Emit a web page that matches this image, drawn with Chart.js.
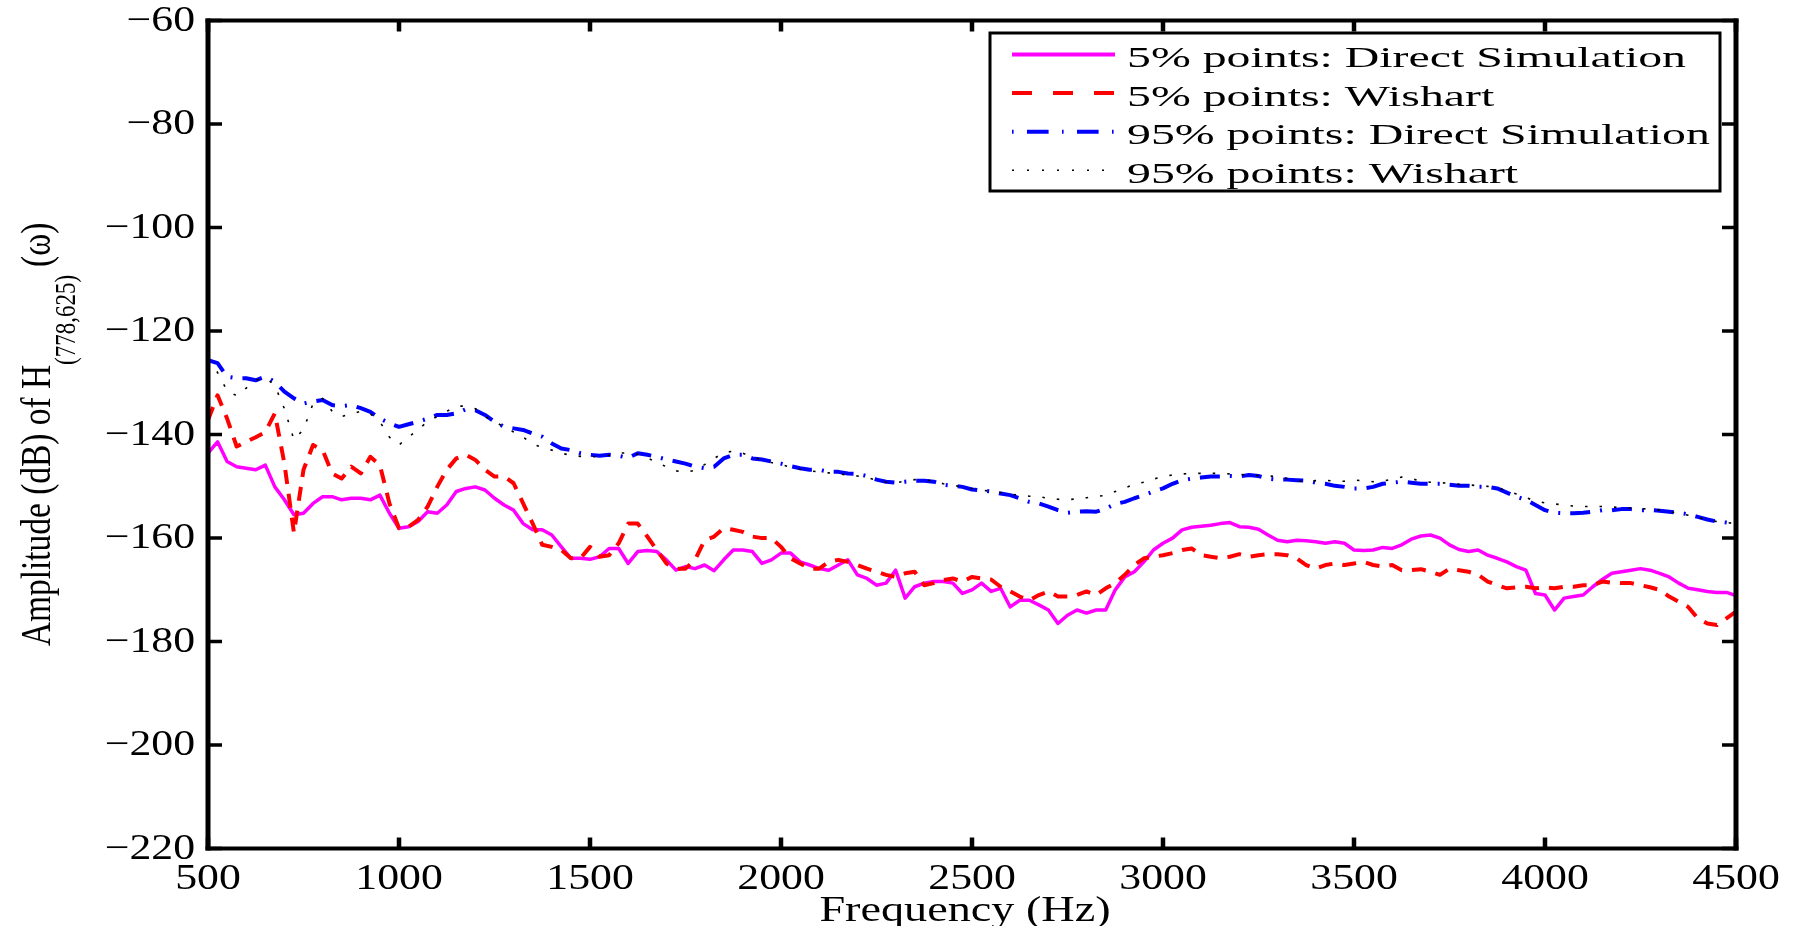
<!DOCTYPE html>
<html>
<head>
<meta charset="utf-8">
<script src="https://cdn.jsdelivr.net/npm/chart.js@4"></script>
<style>
  html, body { margin: 0; padding: 0; background: #fff; overflow: hidden; }
  canvas { display: block; }
</style>
</head>
<body>
<canvas id="chart" width="1798" height="926"></canvas>
<script>
// frequency grid (Hz), one row = 250 Hz
const freq = [
  500, 525, 550, 575, 600, 625, 650, 675, 700, 725,
  750, 775, 800, 825, 850, 875, 900, 925, 950, 975,
  1000, 1025, 1050, 1075, 1100, 1125, 1150, 1175, 1200, 1225,
  1250, 1275, 1300, 1325, 1350, 1375, 1400, 1425, 1450, 1475,
  1500, 1525, 1550, 1575, 1600, 1625, 1650, 1675, 1700, 1725,
  1750, 1775, 1800, 1825, 1850, 1875, 1900, 1925, 1950, 1975,
  2000, 2025, 2050, 2075, 2100, 2125, 2150, 2175, 2200, 2225,
  2250, 2275, 2300, 2325, 2350, 2375, 2400, 2425, 2450, 2475,
  2500, 2525, 2550, 2575, 2600, 2625, 2650, 2675, 2700, 2725,
  2750, 2775, 2800, 2825, 2850, 2875, 2900, 2925, 2950, 2975,
  3000, 3025, 3050, 3075, 3100, 3125, 3150, 3175, 3200, 3225,
  3250, 3275, 3300, 3325, 3350, 3375, 3400, 3425, 3450, 3475,
  3500, 3525, 3550, 3575, 3600, 3625, 3650, 3675, 3700, 3725,
  3750, 3775, 3800, 3825, 3850, 3875, 3900, 3925, 3950, 3975,
  4000, 4025, 4050, 4075, 4100, 4125, 4150, 4175, 4200, 4225,
  4250, 4275, 4300, 4325, 4350, 4375, 4400, 4425, 4450, 4475,
  4500
];

// 5% points: Direct Simulation (dB)
const direct5 = [
  -143.6, -141.4, -145.2, -146.2, -146.5, -146.8, -145.9, -150.1, -152.6, -155.5,
  -155.2, -153.3, -152.0, -152.0, -152.6, -152.3, -152.3, -152.6, -151.7, -155.2,
  -158.1, -157.8, -156.8, -154.9, -155.2, -153.6, -151.0, -150.4, -150.1, -150.7,
  -152.3, -153.6, -154.6, -157.2, -158.4, -158.4, -159.4, -161.7, -163.9, -163.9,
  -164.1, -163.6, -162.0, -162.0, -164.9, -162.6, -162.4, -162.6, -164.2, -166.2,
  -165.5, -165.9, -165.2, -166.3, -164.2, -162.3, -162.3, -162.6, -164.9, -164.2,
  -162.9, -162.9, -164.6, -165.2, -165.9, -166.2, -165.2, -164.2, -167.1, -167.8,
  -169.1, -168.7, -166.2, -171.6, -169.4, -168.7, -168.4, -168.4, -168.7, -170.7,
  -170.0, -168.7, -170.3, -169.7, -173.3, -172.0, -172.0, -172.9, -173.9, -176.5,
  -174.9, -173.9, -174.5, -173.9, -173.9, -170.0, -167.5, -166.5, -164.6, -162.3,
  -161.0, -160.0, -158.4, -157.9, -157.7, -157.5, -157.2, -157.0, -157.8, -157.9,
  -158.3, -159.4, -160.4, -160.7, -160.4, -160.5, -160.7, -161.0, -160.7, -161.0,
  -162.3, -162.4, -162.3, -161.8, -162.0, -161.3, -160.2, -159.6, -159.4, -160.0,
  -161.3, -162.2, -162.6, -162.3, -163.3, -163.9, -164.6, -165.5, -166.2, -170.7,
  -171.0, -173.9, -171.6, -171.3, -171.0, -169.4, -168.0, -166.8, -166.5, -166.2,
  -165.9, -166.2, -166.8, -167.5, -168.7, -169.7, -170.0, -170.3, -170.5, -170.5,
  -171.1
];

// 5% points: Wishart (dB)
const wishart5 = [
  -137.2, -132.4, -136.9, -142.3, -141.4, -140.5, -139.5, -135.9, -145.6, -159.0,
  -146.8, -142.0, -143.0, -147.5, -148.5, -146.2, -147.5, -144.3, -145.9, -153.3,
  -158.1, -157.8, -156.5, -153.9, -150.1, -146.8, -144.6, -143.9, -144.9, -146.8,
  -148.1, -148.1, -149.4, -153.3, -157.2, -161.3, -161.7, -162.3, -163.9, -163.9,
  -161.7, -163.6, -163.3, -161.0, -157.2, -157.2, -159.7, -162.3, -164.9, -165.9,
  -165.9, -164.2, -160.4, -159.7, -158.1, -158.4, -158.8, -159.7, -160.0, -160.0,
  -161.7, -163.9, -164.9, -165.9, -165.9, -164.6, -164.2, -164.6, -165.2, -165.9,
  -166.5, -167.1, -167.5, -166.8, -166.5, -169.1, -168.7, -168.1, -167.8, -168.4,
  -167.5, -167.8, -168.0, -169.4, -170.3, -171.3, -172.0, -171.0, -170.3, -171.3,
  -171.3, -171.0, -170.3, -171.0, -169.7, -168.7, -167.1, -165.2, -163.9, -163.6,
  -163.3, -162.9, -162.3, -162.0, -163.3, -163.6, -163.9, -163.6, -163.1, -163.6,
  -163.3, -163.1, -163.1, -163.3, -163.9, -165.2, -165.9, -165.2, -164.9, -165.2,
  -164.9, -164.6, -165.2, -165.5, -165.2, -166.2, -166.2, -166.0, -166.5, -167.1,
  -165.9, -166.2, -166.5, -167.1, -168.4, -169.1, -169.7, -169.5, -169.4, -169.7,
  -169.5, -169.7, -169.4, -169.4, -169.1, -169.1, -168.4, -168.6, -168.7, -168.7,
  -169.1, -169.5, -170.0, -171.3, -172.3, -173.3, -175.5, -176.5, -176.8, -175.5,
  -174.2
];

// 95% points: Direct Simulation (dB)
const direct95 = [
  -125.6, -126.2, -128.8, -129.1, -129.1, -129.5, -128.8, -129.8, -131.7, -133.0,
  -134.0, -133.6, -133.3, -134.3, -134.5, -134.3, -134.9, -135.6, -136.9, -137.8,
  -138.5, -138.0, -137.5, -136.9, -136.2, -136.2, -135.9, -135.1, -135.3, -136.2,
  -137.5, -138.5, -138.8, -139.1, -139.8, -140.4, -141.7, -142.7, -143.0, -143.6,
  -143.9, -144.1, -143.9, -144.1, -144.5, -143.6, -143.9, -144.3, -144.8, -145.2,
  -145.6, -146.2, -146.5, -146.2, -144.6, -143.9, -143.9, -144.6, -144.8, -145.2,
  -145.6, -146.1, -146.5, -146.8, -146.8, -147.2, -147.2, -147.5, -147.6, -148.0,
  -148.7, -149.1, -149.3, -149.1, -148.9, -148.9, -149.1, -149.7, -149.9, -150.1,
  -150.6, -150.8, -151.0, -151.4, -151.7, -152.3, -153.0, -153.3, -153.9, -154.6,
  -155.1, -154.9, -154.8, -154.9, -154.3, -153.4, -153.0, -152.3, -151.7, -151.0,
  -150.4, -149.5, -148.8, -148.5, -148.3, -148.1, -148.1, -148.0, -148.1, -147.8,
  -148.0, -148.5, -148.7, -148.7, -148.8, -148.9, -149.3, -149.5, -149.9, -150.1,
  -150.4, -150.4, -150.1, -149.5, -149.3, -149.1, -149.3, -149.5, -149.5, -149.5,
  -149.7, -149.9, -149.9, -150.1, -150.1, -150.4, -151.2, -152.0, -152.6, -153.6,
  -154.6, -155.1, -155.2, -155.2, -155.1, -154.9, -154.6, -154.6, -154.4, -154.4,
  -154.6, -154.6, -154.7, -154.9, -155.1, -155.4, -155.9, -156.4, -156.8, -157.0,
  -157.3
];

// 95% points: Wishart (dB)
const wishart95 = [
  -125.6, -128.0, -131.5, -132.5, -131.0, -129.5, -129.0, -130.5, -135.0, -141.0,
  -139.0, -134.0, -133.0, -135.5, -136.5, -136.0, -135.5, -136.0, -137.5, -140.5,
  -142.0, -140.5, -139.0, -137.5, -136.5, -135.5, -134.5, -134.5, -135.0, -136.5,
  -137.5, -138.5, -139.5, -140.5, -141.8, -142.5, -143.0, -143.6, -144.0, -144.2,
  -144.3, -144.2, -144.0, -143.6, -143.5, -143.8, -144.5, -145.4, -146.2, -147.0,
  -147.3, -146.9, -145.8, -144.6, -143.5, -143.2, -143.6, -144.3, -144.9, -145.4,
  -145.8, -146.3, -146.7, -147.0, -147.2, -147.4, -147.6, -147.8, -148.0, -148.3,
  -148.8, -149.2, -149.3, -149.0, -148.7, -148.7, -149.0, -149.5, -149.8, -150.1,
  -150.4, -150.7, -151.0, -151.2, -151.5, -151.7, -151.9, -152.0, -152.3, -152.5,
  -152.6, -152.4, -152.2, -152.0, -151.7, -151.0, -150.3, -149.6, -149.2, -148.6,
  -148.1, -147.8, -147.6, -147.5, -147.5, -147.5, -147.5, -147.6, -147.7, -147.8,
  -147.9, -148.0, -148.1, -148.5, -148.9, -149.1, -148.9, -148.8, -149.0, -149.0,
  -148.8, -148.9, -149.1, -149.0, -148.6, -148.2, -148.5, -149.0, -149.2, -149.3,
  -149.4, -149.6, -149.7, -149.9, -150.0, -150.3, -150.8, -151.5, -152.2, -152.8,
  -153.2, -153.4, -153.6, -153.8, -153.9, -153.9, -153.9, -154.0, -154.1, -154.2,
  -154.3, -154.4, -154.6, -154.9, -155.2, -155.6, -156.0, -156.5, -156.8, -157.0,
  -157.2
];

const xTicks = [500, 1000, 1500, 2000, 2500, 3000, 3500, 4000, 4500];
const yTicks = [-220, -200, -180, -160, -140, -120, -100, -80, -60];
const seriesNames = [
  '5% points: Direct Simulation',
  '5% points: Wishart',
  '95% points: Direct Simulation',
  '95% points: Wishart'
];

const FONT = '"Liberation Serif", "Times New Roman", serif';

function pts(ys) {
  return freq.map((f, i) => ({ x: f, y: ys[i] }));
}

// text squeezed / stretched sideways like the exported figure
function wideText(ctx, str, x, y, sx, align) {
  ctx.save();
  ctx.translate(x, y);
  ctx.scale(sx, 1);
  ctx.textAlign = align;
  ctx.fillText(str, 0, 0);
  ctx.restore();
}

const styles = [
  { color: '#ff00ff', width: 3.5, dash: [] },
  { color: '#ff0000', width: 4, dash: [14, 10] },
  { color: '#0000ff', width: 4, dash: [20, 10, 2, 10] },
  { color: '#000000', width: 1.6, dash: [2.5, 12] }
];

const decor = {
  id: 'decor',
  afterDatasetsDraw(chart) {
    const ctx = chart.ctx;
    const xs = chart.scales.x, ys = chart.scales.y;
    const a = chart.chartArea;
    ctx.save();
    ctx.strokeStyle = '#000';
    ctx.lineCap = 'butt';
    ctx.setLineDash([]);

    // inward ticks on all four sides
    ctx.lineWidth = 3.5;
    yTicks.forEach(v => {
      const py = ys.getPixelForValue(v);
      ctx.beginPath();
      ctx.moveTo(a.left, py); ctx.lineTo(a.left + 14, py);
      ctx.moveTo(a.right, py); ctx.lineTo(a.right - 14, py);
      ctx.stroke();
    });
    ctx.lineWidth = 4.5;
    xTicks.forEach(v => {
      const px = xs.getPixelForValue(v);
      ctx.beginPath();
      ctx.moveTo(px, a.bottom); ctx.lineTo(px, a.bottom - 11);
      ctx.moveTo(px, a.top); ctx.lineTo(px, a.top + 11);
      ctx.stroke();
    });

    // box
    ctx.lineWidth = 4;
    ctx.beginPath();
    ctx.moveTo(a.left - 2.5, a.top); ctx.lineTo(a.right + 2.5, a.top);
    ctx.moveTo(a.left - 2.5, a.bottom); ctx.lineTo(a.right + 2.5, a.bottom);
    ctx.stroke();
    ctx.lineWidth = 5;
    ctx.beginPath();
    ctx.moveTo(a.left, a.top - 2); ctx.lineTo(a.left, a.bottom + 2);
    ctx.moveTo(a.right, a.top - 2); ctx.lineTo(a.right, a.bottom + 2);
    ctx.stroke();

    // tick labels
    ctx.fillStyle = '#000';
    ctx.font = '35px ' + FONT;
    ctx.textBaseline = 'middle';
    yTicks.forEach(v => {
      const label = v < 0 ? '\u2212' + Math.abs(v) : String(v);
      wideText(ctx, label, a.left - 13, ys.getPixelForValue(v) + 1, 1.25, 'right');
    });
    ctx.textBaseline = 'alphabetic';
    xTicks.forEach(v => {
      wideText(ctx, String(v), xs.getPixelForValue(v), a.bottom + 40, 1.25, 'center');
    });

    // x title
    ctx.font = '35px ' + FONT;
    wideText(ctx, 'Frequency (Hz)', 965, 921, 1.32, 'center');

    // y title, rotated, with subscript
    ctx.save();
    ctx.translate(50, 646);
    ctx.rotate(-Math.PI / 2);
    ctx.scale(1, 1.27);
    ctx.textAlign = 'left';
    ctx.font = '33.4px ' + FONT;
    const main = 'Amplitude (dB) of H';
    ctx.fillText(main, 0, 0);
    let off = ctx.measureText(main).width;
    ctx.font = '23px ' + FONT;
    const sub = '(778,625)';
    ctx.fillText(sub, off, 19.5);
    off += ctx.measureText(sub).width + 8;
    ctx.font = '33.4px ' + FONT;
    ctx.fillText('(\u03c9)', off, 0);
    ctx.restore();

    ctx.restore();
  },
  afterDraw(chart) {
    const ctx = chart.ctx;
    ctx.save();
    // legend box
    const bx = 990, by = 33, bw = 730, bh = 158;
    ctx.fillStyle = '#fff';
    ctx.fillRect(bx, by, bw, bh);
    ctx.strokeStyle = '#000';
    ctx.lineWidth = 3;
    ctx.setLineDash([]);
    ctx.strokeRect(bx, by, bw, bh);

    const legendDash = [[], [20, 21], [1.6, 13.4, 21.6, 13.4], [2, 13]];
    ctx.font = '30px ' + FONT;
    ctx.textBaseline = 'alphabetic';
    const sx = 559 / ctx.measureText(seriesNames[0]).width;
    seriesNames.forEach((name, i) => {
      const ry = 54.5 + i * 38.6;
      ctx.strokeStyle = styles[i].color;
      ctx.lineWidth = i === 3 ? 1.6 : 4;
      ctx.setLineDash(legendDash[i]);
      ctx.beginPath();
      ctx.moveTo(1012, ry);
      ctx.lineTo(1115, ry);
      ctx.stroke();
      ctx.fillStyle = '#000';
      wideText(ctx, name, 1127, ry + 12.4, sx, 'left');
    });
    ctx.restore();
  }
};

const series = [direct5, wishart5, direct95, wishart95];
const datasets = series.map((ys, i) => ({
  label: seriesNames[i],
  data: pts(ys),
  borderColor: styles[i].color,
  borderWidth: styles[i].width,
  borderDash: styles[i].dash,
  borderCapStyle: 'butt',
  borderJoinStyle: 'round',
  pointRadius: 0,
  tension: 0,
  fill: false,
  order: 4 - i
}));

new Chart(document.getElementById('chart'), {
  type: 'line',
  data: { datasets },
  options: {
    responsive: false,
    animation: false,
    devicePixelRatio: 1,
    layout: { padding: { top: 20.6, right: 62, left: 0, bottom: 0 } },
    plugins: { legend: { display: false }, tooltip: { enabled: false } },
    scales: {
      x: {
        type: 'linear', min: 500, max: 4500,
        ticks: { display: false, stepSize: 500 },
        grid: { display: false }, border: { display: false },
        afterFit: s => { s.height = 77.4; }
      },
      y: {
        type: 'linear', min: -220, max: -60,
        ticks: { display: false, stepSize: 20 },
        grid: { display: false }, border: { display: false },
        afterFit: s => { s.width = 208; }
      }
    }
  },
  plugins: [decor]
});
</script>
</body>
</html>
